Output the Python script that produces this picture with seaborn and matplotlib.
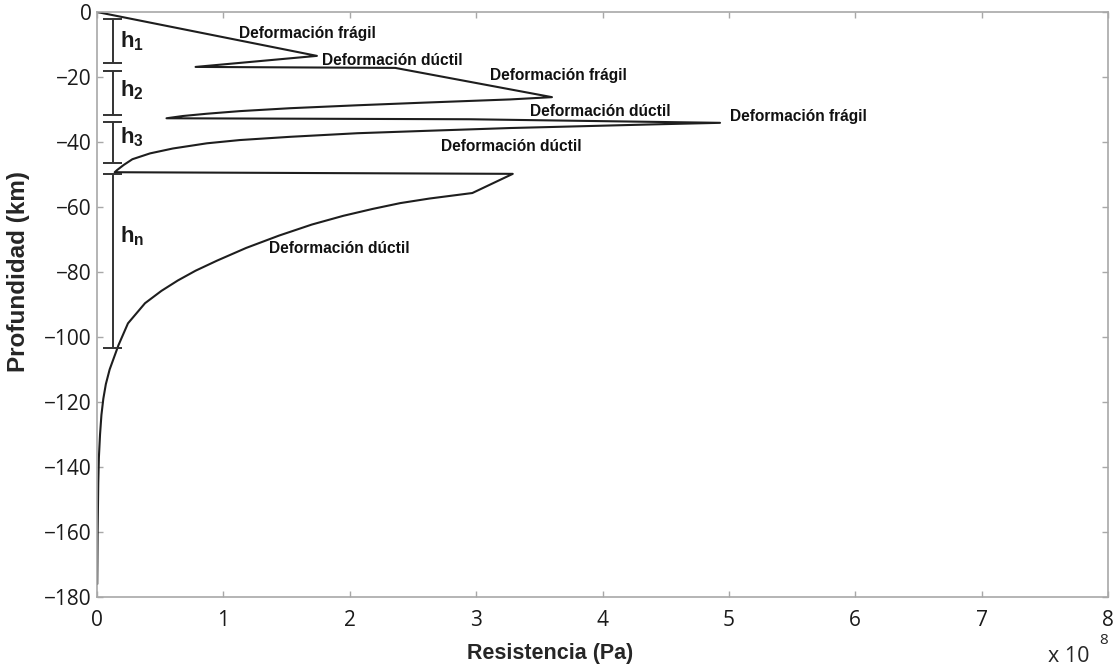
import numpy as np
import pandas as pd
import matplotlib
matplotlib.use("Agg")
import matplotlib.pyplot as plt
import seaborn as sns

resistencia = [0, 1.74, 0.78, 2.36, 3.60,
               3.27, 2.58, 2.06, 1.53, 1.13, 0.87, 0.68, 0.55,
               2.95, 4.93,
               4.38, 3.98, 3.58, 3.27, 2.58, 2.06, 1.53, 1.13, 0.87, 0.60, 0.42, 0.28, 0.21, 0.16, 0.14,
               3.29, 2.97, 2.63,
               2.40, 2.18, 1.95, 1.70, 1.44, 1.18, 0.95, 0.78, 0.64, 0.51, 0.38, 0.245, 0.17, 0.10,
               0.07, 0.05, 0.035, 0.024, 0.015, 0.01, 0.005, 0.002]
profundidad = [0, -13.5, -16.9, -17.2, -26.2,
               -26.9, -27.9, -28.7, -29.6, -30.5, -31.3, -32.0, -32.7,
               -33.0, -34.1,
               -34.6, -35.0, -35.4, -35.7, -36.6, -37.3, -38.4, -39.4, -40.4, -42.0, -43.5, -45.3, -47.1, -48.6, -49.3,
               -49.8, -55.7, -57.4,
               -58.8, -60.6, -62.7, -65.4, -68.8, -72.6, -76.5, -79.6, -82.6, -85.8, -89.6, -95.8, -102.5, -110,
               -114.5, -119, -124, -130, -137, -145, -160, -176]

# capas h1, h2, h3, hn
capa_nombres = [r'$\mathbf{h_1}$', r'$\mathbf{h_2}$', r'$\mathbf{h_3}$', r'$\mathbf{h_n}$']
capa_techo = [-2.2, -18.1, -33.8, -49.8]
capa_base = [-15.8, -31.7, -46.5, -103.4]
capa_etiqueta_y = [-9.0, -24.0, -38.5, -69.0]

# etiquetas de deformacion
etiquetas = ['Deformación frágil', 'Deformación dúctil', 'Deformación frágil',
             'Deformación dúctil', 'Deformación frágil', 'Deformación dúctil',
             'Deformación dúctil']
etiqueta_x = [1.12, 1.78, 3.11, 3.43, 5.01, 2.72, 1.36]
etiqueta_y = [-6.5, -14.8, -19.4, -30.6, -32.2, -41.5, -72.9]

xticks = [0, 1, 2, 3, 4, 5, 6, 7, 8]
yticks = [0, -20, -40, -60, -80, -100, -120, -140, -160, -180]

sns.set_style("ticks")
plt.rcParams['font.family'] = ['Open Sans', 'DejaVu Sans']
plt.rcParams['axes.unicode_minus'] = True
plt.rcParams['mathtext.fontset'] = 'custom'
plt.rcParams['mathtext.bf'] = 'Liberation Sans:bold'
plt.rcParams['mathtext.rm'] = 'Liberation Sans'

df = pd.DataFrame({'res': resistencia, 'prof': profundidad})

fig = plt.figure(figsize=(11.19, 6.70), dpi=100)
ax = fig.add_axes([97/1119, 1-597/670, (1108-97)/1119, (597-12)/670])

sns.lineplot(data=df, x='res', y='prof', sort=False, estimator=None,
             color='#1e1e1e', linewidth=1.5, ax=ax)

gris = '#a8a8a8'
for s in ax.spines.values():
    s.set_color(gris)
    s.set_linewidth(1.2)

ax.set_xlim(0, 8)
ax.set_ylim(-180, 0)
ax.set_xticks(xticks)
ax.set_yticks(yticks)
ax.set_xticklabels([str(v) for v in xticks])
ax.set_yticklabels([str(v).replace('-', '\u2212') for v in yticks])
ax.tick_params(axis='both', which='major', direction='in', length=4,
               width=1, colors=gris, labelcolor='#1a1a1a', labelsize=15,
               top=True, right=True)
ax.tick_params(axis='x', pad=9)
ax.tick_params(axis='y', pad=4)

# corchetes de las capas
xb = 0.123
cap = 0.075
ax.vlines([xb]*4, capa_base, capa_techo, color='#333333', linewidth=1.4)
ax.hlines(capa_techo + capa_base, xb-cap, xb+cap, color='#333333', linewidth=1.4)
for nombre, yy in zip(capa_nombres, capa_etiqueta_y):
    ax.text(0.18, yy, nombre, fontsize=16, ha='left', va='center',
            color='#1a1a1a')

for t, xx, yy in zip(etiquetas, etiqueta_x, etiqueta_y):
    ax.text(xx, yy, t, fontsize=11.2, fontweight='bold', ha='left', va='center',
            family='Liberation Sans', color='#111111')

ax.set_xlabel('Resistencia (Pa)', fontsize=15.5, fontweight='bold',
              family='Liberation Sans')
ax.set_ylabel('Profundidad (km)', fontsize=17.5, fontweight='bold',
              family='Liberation Sans')
ax.xaxis.set_label_coords((550-97)/(1108-97), -(643-597)/(597-12))
ax.yaxis.set_label_coords(-(97-30)/(1108-97), (597-272)/(597-12))

fig.text(1090/1119, 1-656/670, 'x 10', fontsize=15.5, ha='right', va='center')
fig.text(1099/1119, 1-640/670, '8', fontsize=11, ha='left', va='center')

fig.savefig('out.png', dpi=100)
